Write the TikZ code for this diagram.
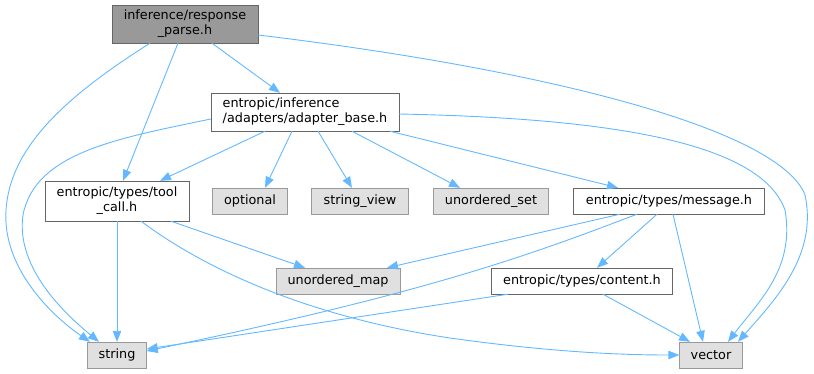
\documentclass[tikz,border=0pt]{standalone}
\usepackage{fontspec}
\setmainfont{DejaVu Sans}
\usetikzlibrary{positioning, arrows.meta, calc}
\definecolor{edgeblue}{HTML}{63B8FF}

\begin{document}
\begin{tikzpicture}[
    x=1pt, y=-1pt,
    file/.style={rectangle, draw=black!60, fill=white, inner sep=0pt,
                 minimum height=26pt, align=center,
                 font=\fontsize{12.8}{15}\selectfont},
    sysfile/.style={file, draw=black!40, fill=black!12},
    rootfile/.style={file, fill=black!40},
    dep/.style={draw=edgeblue, line width=0.9pt},
    >={Triangle[length=11pt,width=8.5pt]}
  ]
  \useasboundingbox (0,0) rectangle (814,373);

  % Header files
  \node[rootfile, minimum width=146pt, minimum height=38pt] (root) at (185,24)
    {inference/response\\\_parse.h};
  \node[file, minimum width=188pt, minimum height=38pt, align=left] (adapter) at (305,112)
    {entropic/inference\\/adapters/adapter\_base.h};
  \node[file, minimum width=144pt, minimum height=40pt] (tool) at (117,201)
    {entropic/types/tool\\\_call.h};
  \node[file, minimum width=191pt] (message) at (669,201) {entropic/types/message.h};
  \node[file, minimum width=181pt] (content) at (582,281) {entropic/types/content.h};

  % System headers
  \node[sysfile, minimum width=75pt] (optional) at (250,201) {optional};
  \node[sysfile, minimum width=97pt] (strview) at (360,201) {string\_view};
  \node[sysfile, minimum width=115pt] (uset) at (491,201) {unordered\_set};
  \node[sysfile, minimum width=124pt] (umap) at (338,281) {unordered\_map};
  \node[sysfile, minimum width=59pt] (string) at (117,355) {string};
  \node[sysfile, minimum width=63pt] (vector) at (711,355) {vector};

  % Includes of response_parse.h
  \draw[dep,->] ([xshift=-35pt]root.south) .. controls (60,100) and (10,150) .. (6,210)
    .. controls (2,270) and (55,318) .. ([xshift=-27pt]string.north);
  \draw[dep,->] ([xshift=-7pt]root.south) -- ([xshift=6pt]tool.north);
  \draw[dep,->] ([xshift=27pt]root.south) -- ([xshift=-25pt]adapter.north);
  \draw[dep,->] ([yshift=-11pt]root.east) .. controls (550,70) and (780,130) .. (805,195)
    .. controls (818,255) and (775,300) .. ([xshift=27pt]vector.north);

  % Includes of adapter_base.h
  \draw[dep,->] ([yshift=-7pt]adapter.west) .. controls (120,138) and (35,152) .. (23,215)
    .. controls (15,270) and (70,318) .. ([xshift=-18pt]string.north);
  \draw[dep,->] ([xshift=-40pt]adapter.south) -- ([xshift=43pt]tool.north);
  \draw[dep,->] ([xshift=-13pt]adapter.south) -- ([xshift=15pt]optional.north);
  \draw[dep,->] ([xshift=13pt]adapter.south) -- ([xshift=-8pt]strview.north);
  \draw[dep,->] ([xshift=47pt]adapter.south) -- ([xshift=-31pt]uset.north);
  \draw[dep,->] ([xshift=85pt]adapter.south) -- ([xshift=-51pt]message.north);
  \draw[dep,->] ([yshift=-2pt]adapter.east) .. controls (600,118) and (760,140) .. (785,210)
    .. controls (795,268) and (760,300) .. ([xshift=17pt]vector.north);

  % Includes of tool_call.h
  \draw[dep,->] (tool.south) -- (string.north);
  \draw[dep,->] ([xshift=54pt]tool.south) -- ([xshift=-33pt]umap.north);
  \draw[dep,->] ([xshift=24pt]tool.south) .. controls (220,280) and (330,320) .. (450,338)
    .. controls (550,352) and (620,355) .. (vector.west);

  % Includes of message.h
  \draw[dep,->] ([xshift=-49pt]message.south) -- ([xshift=49pt]umap.north);
  \draw[dep,->] ([xshift=-32pt]message.south) .. controls (530,255) and (430,292)
    .. ([yshift=4pt]string.east);
  \draw[dep,->] ([xshift=-12pt]message.south) -- ([xshift=15pt]content.north);
  \draw[dep,->] ([xshift=4pt]message.south) -- ([xshift=-8pt]vector.north);

  % Includes of content.h
  \draw[dep,->] ([xshift=-74pt]content.south) -- ([yshift=6pt]string.east);
  \draw[dep,->] ([xshift=21pt]content.south) -- ([xshift=-21pt]vector.north);
\end{tikzpicture}
\end{document}
